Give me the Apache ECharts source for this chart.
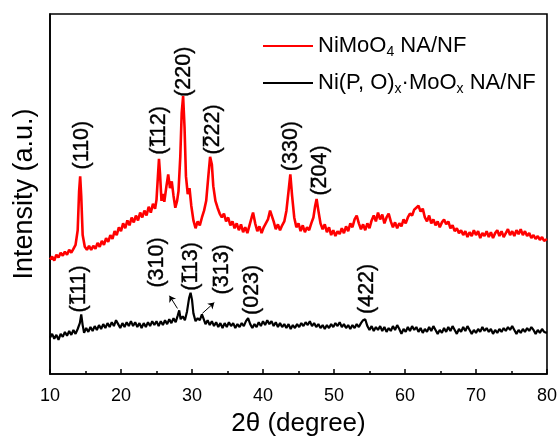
<!DOCTYPE html>
<html>
<head>
<meta charset="utf-8">
<script src="https://cdn.jsdelivr.net/npm/echarts@6/dist/echarts.min.js"></script>
<style>html,body{margin:0;padding:0;background:#fff;}#c{width:560px;height:442px;}</style>
</head>
<body>
<div id="c"></div>
<script>
// 2θ (degree), intensity (a.u.)
const redData = [
[10.0,117],[10.3,120],[10.6,116],[10.9,122],[11.2,119],[11.5,124],[11.8,121],[12.1,125],[12.4,122],[12.7,127],
[13.0,124],[13.3,128],[13.6,132],[13.9,147],[14.1,187],[14.25,202],[14.4,182],[14.6,142],[14.9,130],[15.2,127],
[15.5,131],[15.8,127],[16.1,131],[16.4,128],[16.7,134],[17.0,130],[17.3,136],[17.6,132],[17.9,139],[18.2,135],
[18.5,142],[18.8,138],[19.1,146],[19.4,142],[19.7,150],[20.0,146],[20.3,154],[20.6,149],[20.9,157],[21.2,152],
[21.5,160],[21.8,155],[22.1,162],[22.4,157],[22.7,165],[23.0,160],[23.3,167],[23.6,162],[23.9,171],[24.2,165],
[24.5,174],[24.8,169],[25.0,178],[25.2,202],[25.35,220],[25.5,204],[25.7,177],[25.9,184],[26.1,176],[26.4,192],
[26.65,204],[26.9,190],[27.15,197],[27.4,182],[27.65,170],[27.9,177],[28.1,187],[28.35,222],[28.55,267],[28.75,284],
[28.95,252],[29.15,202],[29.4,184],[29.65,190],[29.9,172],[30.2,157],[30.5,149],[30.8,156],[31.1,152],[31.4,160],
[31.7,167],[32.0,177],[32.3,202],[32.55,222],[32.8,214],[33.0,192],[33.3,177],[33.6,170],[33.9,164],[34.2,160],
[34.5,164],[34.8,156],[35.1,160],[35.4,152],[35.7,156],[36.0,149],[36.3,154],[36.6,147],[36.9,153],[37.2,145],
[37.5,150],[37.8,144],[38.1,152],[38.4,160],[38.6,165],[38.9,154],[39.2,146],[39.5,151],[39.8,144],[40.1,150],
[40.4,154],[40.7,158],[41.0,167],[41.2,169],[41.5,156],[41.8,148],[42.1,153],[42.4,147],[42.7,152],[43.0,156],
[43.3,167],[43.6,187],[43.85,204],[44.1,182],[44.4,160],[44.7,150],[45.0,154],[45.3,146],[45.6,152],[45.9,145],
[46.2,150],[46.5,147],[46.8,154],[47.1,160],[47.35,172],[47.55,179],[47.8,167],[48.1,154],[48.4,148],[48.7,153],
[49.0,145],[49.3,150],[49.6,142],[49.9,147],[50.2,141],[50.5,146],[50.8,143],[51.1,149],[51.4,144],[51.7,151],
[52.0,146],[52.3,154],[52.6,150],[52.9,158],[53.2,162],[53.5,154],[53.8,148],[54.1,153],[54.4,147],[54.7,154],
[55.0,149],[55.3,157],[55.6,162],[55.9,156],[56.2,165],[56.5,158],[56.8,163],[57.1,154],[57.4,160],[57.7,164],
[58.0,156],[58.3,150],[58.6,155],[58.9,149],[59.2,154],[59.5,151],[59.8,158],[60.1,154],[60.4,160],[60.7,164],
[61.0,162],[61.3,168],[61.6,170],[61.9,172],[62.2,166],[62.5,169],[62.8,160],[63.1,156],[63.4,162],[63.7,154],
[64.0,158],[64.3,152],[64.6,156],[64.9,150],[65.2,155],[65.5,158],[65.8,153],[66.1,156],[66.4,149],[66.7,152],
[67.0,146],[67.3,149],[67.6,144],[67.9,147],[68.2,142],[68.5,146],[68.8,140],[69.1,145],[69.4,141],[69.7,147],
[70.0,142],[70.3,146],[70.6,139],[70.9,144],[71.2,141],[71.5,146],[71.8,140],[72.1,145],[72.4,139],[72.7,144],
[73.0,147],[73.3,141],[73.6,146],[73.9,140],[74.2,144],[74.5,148],[74.8,142],[75.1,146],[75.4,141],[75.7,147],
[76.0,143],[76.3,148],[76.6,142],[76.9,146],[77.2,141],[77.5,144],[77.8,139],[78.1,142],[78.4,138],[78.7,141],
[79.0,137],[79.3,140],[79.6,136],[80.0,138]
];
const blackData = [
[10.0,37],[10.3,41],[10.6,36],[10.9,40],[11.2,35],[11.5,41],[11.8,38],[12.1,43],[12.4,39],[12.7,44],
[13.0,40],[13.3,45],[13.6,41],[13.9,46],[14.2,52],[14.4,61],[14.6,50],[14.8,42],[15.1,47],[15.4,43],
[15.7,48],[16.0,44],[16.3,49],[16.6,45],[16.9,50],[17.2,46],[17.5,51],[17.8,47],[18.1,52],[18.4,48],
[18.7,53],[19.0,49],[19.3,55],[19.6,51],[19.9,47],[20.2,52],[20.5,48],[20.8,53],[21.1,49],[21.4,54],
[21.7,49],[22.0,53],[22.3,48],[22.6,52],[22.9,47],[23.2,52],[23.5,48],[23.8,53],[24.1,49],[24.4,54],
[24.7,50],[25.0,54],[25.3,49],[25.6,54],[25.9,50],[26.2,55],[26.5,51],[26.8,56],[27.1,52],[27.4,57],
[27.7,53],[28.0,60],[28.2,65],[28.4,56],[28.7,59],[29.0,55],[29.3,64],[29.6,78],[29.8,83],[30.0,76],
[30.2,62],[30.5,54],[30.8,57],[31.1,55],[31.4,61],[31.6,57],[31.9,51],[32.2,55],[32.5,50],[32.8,54],
[33.1,49],[33.4,53],[33.7,48],[34.0,52],[34.3,47],[34.6,52],[34.9,48],[35.2,53],[35.5,49],[35.8,52],
[36.1,47],[36.4,51],[36.7,48],[37.0,52],[37.3,49],[37.6,54],[37.9,57],[38.2,51],[38.5,47],[38.8,51],
[39.1,48],[39.4,53],[39.7,49],[40.0,54],[40.3,50],[40.6,55],[40.9,51],[41.2,54],[41.5,49],[41.8,53],
[42.1,48],[42.4,52],[42.7,48],[43.0,51],[43.3,47],[43.6,51],[43.9,46],[44.2,50],[44.5,47],[44.8,51],
[45.1,48],[45.4,52],[45.7,49],[46.0,53],[46.3,50],[46.6,54],[46.9,49],[47.2,52],[47.5,48],[47.8,51],
[48.1,47],[48.4,50],[48.7,46],[49.0,50],[49.3,47],[49.6,51],[49.9,48],[50.2,52],[50.5,49],[50.8,53],
[51.1,48],[51.4,51],[51.7,47],[52.0,50],[52.3,46],[52.6,50],[52.9,47],[53.2,51],[53.5,48],[53.8,52],
[54.1,55],[54.4,56],[54.7,49],[55.0,45],[55.3,49],[55.6,44],[55.9,48],[56.2,45],[56.5,49],[56.8,44],
[57.1,48],[57.4,43],[57.7,47],[58.0,44],[58.3,49],[58.6,45],[58.9,50],[59.2,46],[59.5,41],[59.8,46],
[60.1,43],[60.4,48],[60.7,44],[61.0,49],[61.3,45],[61.6,48],[61.9,43],[62.2,47],[62.5,42],[62.8,46],
[63.1,43],[63.4,48],[63.7,44],[64.0,49],[64.3,45],[64.6,41],[64.9,45],[65.2,42],[65.5,47],[65.8,43],
[66.1,48],[66.4,44],[66.7,49],[67.0,45],[67.3,41],[67.6,46],[67.9,43],[68.2,48],[68.5,44],[68.8,49],
[69.1,45],[69.4,41],[69.7,45],[70.0,42],[70.3,46],[70.6,43],[70.9,48],[71.2,44],[71.5,47],[71.8,43],
[72.1,46],[72.4,41],[72.7,45],[73.0,42],[73.3,46],[73.6,43],[73.9,47],[74.2,44],[74.5,48],[74.8,45],
[75.1,49],[75.4,45],[75.7,41],[76.0,45],[76.3,42],[76.6,46],[76.9,43],[77.2,47],[77.5,44],[77.8,48],
[78.1,45],[78.4,41],[78.7,45],[79.0,42],[79.3,46],[79.6,43],[80.0,42]
];
// peak index labels: [2θ, label centre intensity, text, index of barred (negative) digit or -1]
const redLabels = [
[14.5,234,'(110)',-1],[25.4,249,'(112)',1],[28.9,309,'(220)',-1],
[32.9,250,'(222)',1],[43.9,233,'(330)',-1],[48.1,208,'(204)',1]
];
const blackLabels = [
[14.1,87,'(111)',1],[25.1,114,'(310)',-1],[29.9,110,'(113)',1],
[34.3,107,'(313)',1],[38.5,86,'(023)',-1],[54.6,87,'(422)',-1]
];
// arrows: [[from2θ, fromI], [to2θ, toI]]
const arrows = [
[[27.95,67],[26.83,80]],
[[31.46,62],[33.14,73]]
];
const seriesNames = ['NiMoO4 NA/NF', 'Ni(P, O)x·MoOx NA/NF'];
const xTicks = {min: 10, max: 80, step: 10};

const FONT = 'Liberation Sans, Arial, sans-serif';
const LABEL_SIZE = 21.5;
const measureCtx = document.createElement('canvas').getContext('2d');
measureCtx.font = LABEL_SIZE + 'px ' + FONT;
const chart = echarts.init(document.getElementById('c'), null, {renderer: 'canvas'});

function labelSeries(arr) {
  return {
    type: 'custom', coordinateSystem: 'cartesian2d', silent: true, z: 5,
    data: arr.map(d => [d[0], d[1]]),
    renderItem: (params, api) => {
      const item = arr[params.dataIndex];
      const text = item[2], bar = item[3];
      const p = api.coord([api.value(0), api.value(1)]);
      const children = [{
        type: 'text',
        style: {text: text, x: 0, y: 0, align: 'center', verticalAlign: 'middle',
                fontSize: LABEL_SIZE, fontFamily: FONT, fill: '#000',
                stroke: '#000', lineWidth: 0.4}
      }];
      if (bar >= 0) {
        const total = measureCtx.measureText(text).width;
        const before = measureCtx.measureText(text.slice(0, bar)).width;
        const w = measureCtx.measureText(text.charAt(bar)).width;
        const x1 = -total / 2 + before + 1, x2 = x1 + w - 2;
        const y = -LABEL_SIZE * 0.42;
        children.push({type: 'line', shape: {x1: x1, y1: y, x2: x2, y2: y},
                       style: {stroke: '#000', lineWidth: 1.6}});
      }
      return {type: 'group', x: p[0], y: p[1], rotation: Math.PI / 2, children: children};
    }
  };
}

chart.setOption({
  animation: false,
  backgroundColor: '#fff',
  grid: {left: 50, right: 11, top: 14, bottom: 60, show: true, borderColor: '#000', borderWidth: 1.6, containLabel: false},
  legend: {
    data: seriesNames, orient: 'vertical', left: 258, top: 30,
    itemWidth: 50, itemHeight: 2, itemGap: 13, icon: 'rect',
    selectedMode: false,
    formatter: n => n === seriesNames[0] ? '{n|NiMoO}{s|4}{n| NA/NF}' : '{n|Ni(P, O)}{s|x}{n|·MoO}{s|x}{n| NA/NF}',
    textStyle: {
      color: '#000', fontSize: 22, fontFamily: FONT,
      rich: {
        n: {fontSize: 22, fontFamily: FONT, color: '#000', lineHeight: 26},
        s: {fontSize: 14, fontFamily: FONT, color: '#000', lineHeight: 8, verticalAlign: 'bottom'}
      }
    }
  },
  xAxis: {
    type: 'value', min: xTicks.min, max: xTicks.max, interval: xTicks.step,
    name: '2θ (degree)', nameLocation: 'middle', nameGap: 37,
    nameTextStyle: {fontSize: 26, color: '#000', fontFamily: FONT},
    axisLine: {lineStyle: {color: '#000', width: 1.6}},
    axisTick: {inside: true, length: 5, lineStyle: {color: '#000', width: 1.5}},
    minorTick: {show: true, splitNumber: 2, length: 3, lineStyle: {color: '#000', width: 1.5}},
    axisLabel: {fontSize: 18, color: '#000', fontFamily: FONT, margin: 13},
    splitLine: {show: false}
  },
  yAxis: {
    type: 'value', min: 0, max: 368,
    name: 'Intensity (a.u.)', nameLocation: 'middle', nameGap: 12,
    nameTextStyle: {fontSize: 27, color: '#000', fontFamily: FONT},
    axisLine: {show: true, lineStyle: {color: '#000', width: 1.6}},
    axisTick: {show: false}, axisLabel: {show: false}, splitLine: {show: false}
  },
  series: [
    {name: seriesNames[0], type: 'line', data: redData, showSymbol: false, symbol: 'none',
     lineStyle: {color: '#ff0000', width: 2.6}, itemStyle: {color: '#ff0000'}, silent: true, z: 3},
    {name: seriesNames[1], type: 'line', data: blackData, showSymbol: false, symbol: 'none',
     lineStyle: {color: '#000', width: 2.2}, itemStyle: {color: '#000'}, silent: true, z: 3},
    labelSeries(redLabels),
    labelSeries(blackLabels),
    {type: 'lines', coordinateSystem: 'cartesian2d', silent: true,
     symbol: ['none', 'arrow'], symbolSize: 6,
     lineStyle: {color: '#000', width: 1, opacity: 1},
     data: arrows.map(a => ({coords: a})), z: 4}
  ]
});
</script>
</body>
</html>
